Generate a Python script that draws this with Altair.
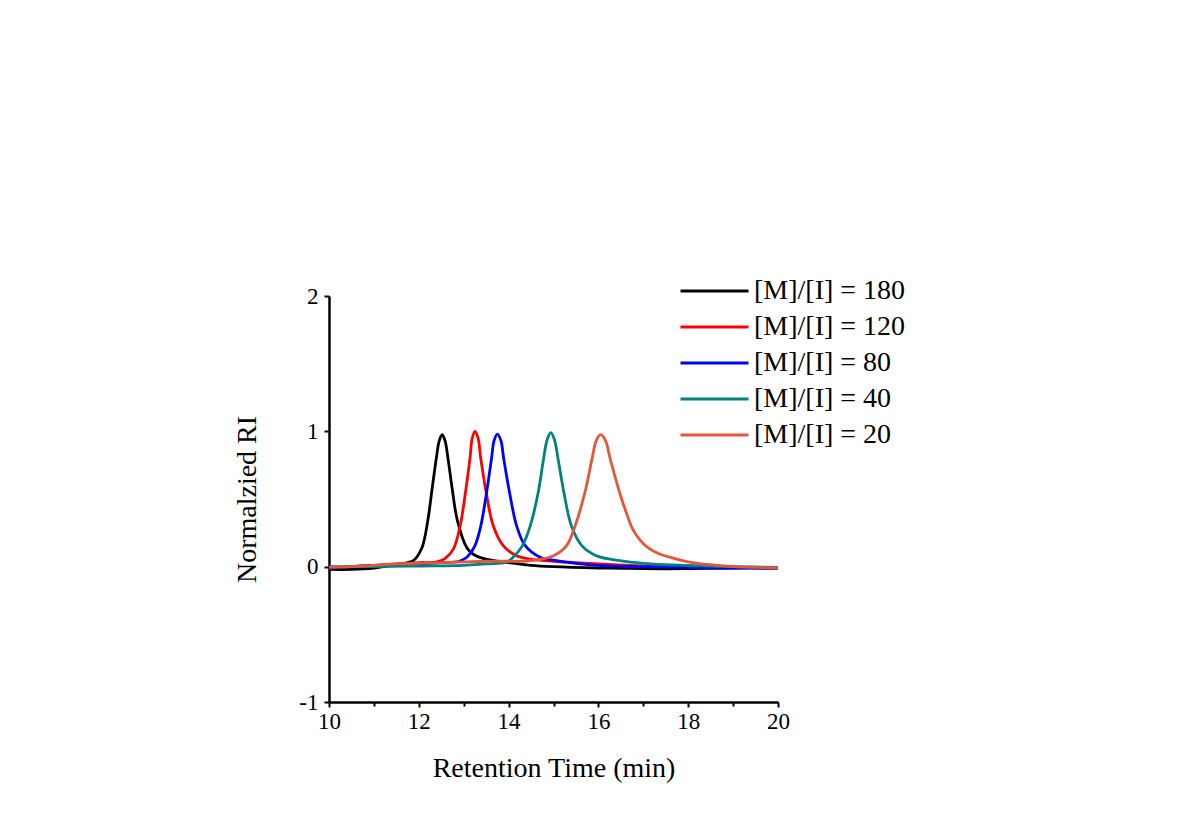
import altair as alt
import pandas as pd

labels = ["[M]/[I] = 180", "[M]/[I] = 120", "[M]/[I] = 80", "[M]/[I] = 40", "[M]/[I] = 20"]
colors = ["#000000", "#FF0000", "#0000FF", "#00827F", "#E5573B"]

x180 = [10.0, 10.5, 11.0, 11.5, 11.75, 11.88, 12.07, 12.20, 12.30, 12.39, 12.455, 12.52, 12.585, 12.65, 12.74, 12.86, 13.07, 13.22, 13.45, 14.0, 14.5, 15.0, 16.0, 17.0, 18.0, 19.0, 20.0]
y180 = [-0.02, -0.02, -0.01, 0.015, 0.03, 0.045, 0.14, 0.34, 0.585, 0.80, 0.93, 0.975, 0.93, 0.80, 0.585, 0.34, 0.14, 0.09, 0.06, 0.03, 0.01, 0.0, -0.01, -0.015, -0.015, -0.01, -0.01]

x120 = [10.0, 10.5, 11.0, 11.5, 12.0, 12.4, 12.58, 12.77, 12.92, 13.04, 13.14, 13.19, 13.25, 13.32, 13.38, 13.50, 13.66, 13.88, 14.18, 14.48, 15.0, 15.5, 16.0, 17.0, 18.0, 19.0, 20.0]
y120 = [-0.01, 0.0, 0.01, 0.02, 0.03, 0.035, 0.06, 0.13, 0.30, 0.55, 0.80, 0.95, 1.0, 0.95, 0.80, 0.55, 0.30, 0.155, 0.08, 0.055, 0.04, 0.03, 0.02, 0.005, 0.0, -0.005, -0.01]

x80 = [10.0, 10.5, 11.0, 11.5, 12.0, 12.5, 12.9, 13.07, 13.25, 13.38, 13.51, 13.62, 13.675, 13.75, 13.83, 13.89, 14.02, 14.18, 14.37, 14.70, 15.07, 15.5, 16.0, 17.0, 18.0, 19.0, 20.0]
y80 = [-0.01, 0.0, 0.01, 0.015, 0.02, 0.03, 0.04, 0.07, 0.155, 0.30, 0.55, 0.80, 0.93, 0.98, 0.93, 0.80, 0.55, 0.30, 0.155, 0.07, 0.045, 0.025, 0.01, 0.0, -0.005, -0.01, -0.01]

x40 = [10.0, 11.0, 12.0, 13.0, 13.5, 13.96, 14.1, 14.3, 14.48, 14.66, 14.78, 14.86, 14.94, 15.02, 15.10, 15.23, 15.40, 15.63, 15.96, 16.48, 17.0, 17.5, 18.0, 19.0, 20.0]
y40 = [0.0, 0.0, 0.005, 0.01, 0.02, 0.035, 0.07, 0.15, 0.30, 0.55, 0.80, 0.94, 0.99, 0.94, 0.80, 0.55, 0.30, 0.155, 0.08, 0.045, 0.025, 0.015, 0.01, 0.0, -0.005]

x20 = [10.0, 10.5, 11.0, 11.5, 12.0, 12.5, 13.0, 13.5, 14.0, 14.3, 14.63, 15.0, 15.29, 15.48, 15.70, 15.86, 15.95, 16.05, 16.16, 16.26, 16.47, 16.62, 16.76, 16.92, 17.10, 17.35, 17.70, 18.0, 18.3, 18.71, 19.0, 19.5, 20.0]
y20 = [-0.005, 0.0, 0.01, 0.02, 0.025, 0.03, 0.035, 0.04, 0.04, 0.04, 0.05, 0.08, 0.155, 0.30, 0.55, 0.80, 0.93, 0.975, 0.93, 0.80, 0.55, 0.40, 0.28, 0.20, 0.14, 0.095, 0.06, 0.035, 0.02, 0.008, 0.0, -0.005, -0.01]

series = [(labels[0], x180, y180), (labels[1], x120, y120), (labels[2], x80, y80),
          (labels[3], x40, y40), (labels[4], x20, y20)]
rows = []
for name, xs, ys in series:
    for i, (a, b) in enumerate(zip(xs, ys)):
        rows.append({"series": name, "t": a, "ri": b, "i": i})
df = pd.DataFrame(rows)

FONT = "Liberation Serif"

chart = alt.Chart(df).mark_line(strokeWidth=2.8, interpolate="catmull-rom").encode(
    x=alt.X("t:Q", scale=alt.Scale(domain=[10, 20], nice=False, zero=False),
            axis=alt.Axis(title="Retention Time (min)", values=list(range(10, 21)),
                          labelExpr="datum.value % 2 == 0 ? datum.label : ''",
                          tickSize={"condition": {"test": "datum.value % 2 == 0", "value": 5}, "value": 4},
                          grid=False, domainWidth=2.5, tickWidth=2, domainColor="black", tickColor="black",
                          labelFont=FONT, labelFontSize=23, labelColor="black", labelPadding=3,
                          labelFlush=False, labelOverlap=False,
                          titleFont=FONT, titleFontSize=28, titleFontWeight="normal", titleColor="black",
                          titleY=74, titleBaseline="alphabetic")),
    y=alt.Y("ri:Q", scale=alt.Scale(domain=[-1, 2], nice=False, zero=False),
            axis=alt.Axis(title="Normalzied RI", values=[-1, 0, 1, 2], grid=False,
                          labelExpr="replace(datum.label, '\u2212', '-')",
                          tickSize=5, domainWidth=2.5, tickWidth=2, domainColor="black", tickColor="black",
                          labelFont=FONT, labelFontSize=23, labelColor="black", labelPadding=6,
                          labelFlush=False, labelOverlap=False,
                          titleFont=FONT, titleFontSize=28, titleFontWeight="normal", titleColor="black",
                          titleX=-82, titleY=203, titleAlign="center", titleBaseline="middle")),
    color=alt.Color("series:N", sort=labels,
                    scale=alt.Scale(domain=labels, range=colors),
                    legend=alt.Legend(orient="none", legendX=350, legendY=-23, title=None,
                                      symbolType="stroke", symbolSize=4624, symbolStrokeWidth=2.8,
                                      labelFont=FONT, labelFontSize=28, labelColor="black",
                                      clipHeight=36, rowPadding=0, padding=0, labelOffset=4,
                                      labelLimit=0)),
    order="i:Q",
).properties(
    width=449, height=406,
    background="white",
    padding={"left": 329, "top": 296, "right": 417, "bottom": 132},
    autosize=alt.AutoSizeParams(type="none"),
).configure_view(strokeWidth=0, stroke=None)

chart.save("out.html", embed_options={"renderer": "svg", "actions": False})
